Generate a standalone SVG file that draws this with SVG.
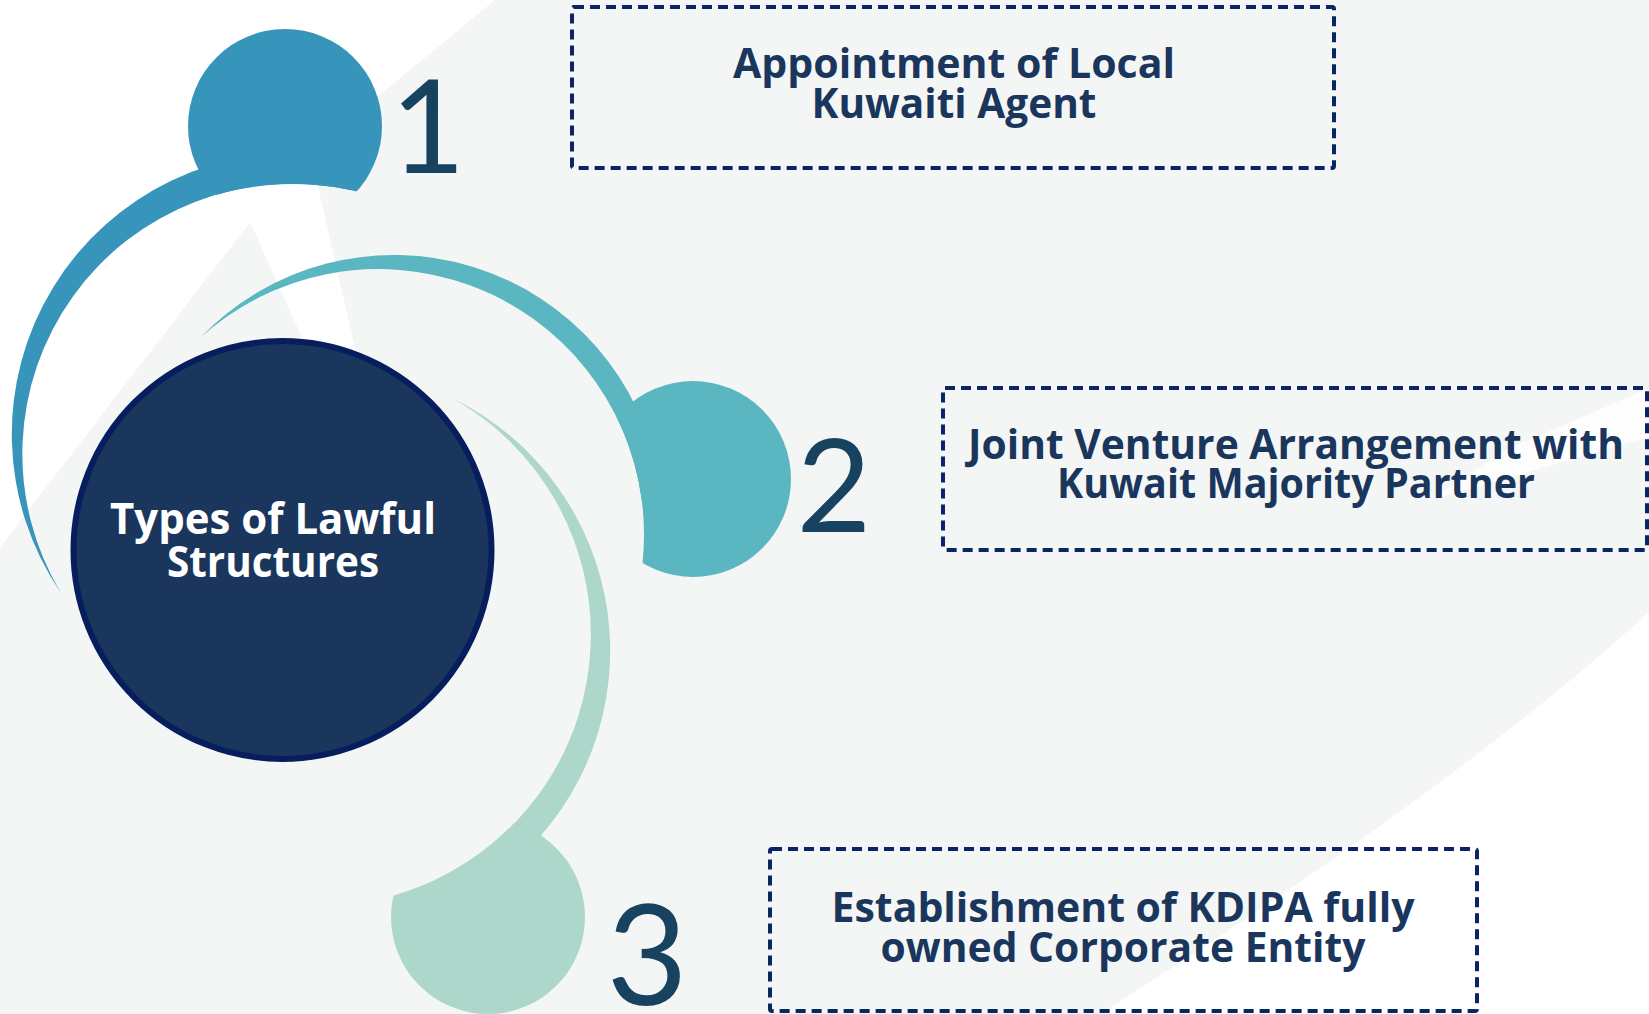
<svg xmlns="http://www.w3.org/2000/svg" width="1649" height="1014" viewBox="0 0 1649 1014">
  <style>
    .box { fill: none; stroke: #0b2462; stroke-width: 4; stroke-dasharray: 10 6; }
    .lbl { font-family: "Open Sans", "Liberation Sans", sans-serif; font-weight: 700; font-size: 42px; fill: #1a365d; text-anchor: middle; }
    .num { font-family: Lato, "Open Sans", sans-serif; font-weight: 400; fill: #174260; text-anchor: middle; }
    .title { font-family: "Open Sans", "Liberation Sans", sans-serif; font-weight: 700; font-size: 43px; fill: #ffffff; text-anchor: middle; }
  </style>
  <defs>
    <clipPath id="cut1"><path clip-rule="evenodd" d="M0 0H1649V1014H0Z M23 454a270 270 0 1 0 540 0a270 270 0 1 0 -540 0Z"/></clipPath>
    <clipPath id="cut2"><path clip-rule="evenodd" d="M0 0H1649V1014H0Z M113 534.5a265.5 265.5 0 1 0 531 0a265.5 265.5 0 1 0 -531 0Z"/></clipPath>
    <clipPath id="cut3"><path clip-rule="evenodd" d="M0 0H1649V1014H0Z M48 635a271 271 0 1 0 542 0a271 271 0 1 0 -542 0Z"/></clipPath>
  </defs>

  <g id="background">
    <rect x="0" y="0" width="1649" height="1014" fill="#f4f6f5"/>
    <path d="M0 0L495 0L310 152L318 187L353 340L370 410L330 410L300 333L250 222L0 547Z" fill="#ffffff"/>
    <path d="M1649 612Q1460 785 1100 1014L1649 1014Z" fill="#ffffff"/>
    <path d="M1649 388L1506 450L1430 500L1649 437Z" fill="#ffffff" opacity="0.8"/>
  </g>

  <g id="connectors">
    <path id="arc1" d="M61 593A281 281 0 0 1 330 155.6L350 190A270 270 0 0 0 61 593Z" fill="#3795bb"/>
    <path id="arc2" d="M200 338A268.4 268.4 0 0 1 659 480L641.7 500A265.5 265.5 0 0 0 200 338Z" fill="#5ab6c1"/>
    <path id="arc3" d="M452 398A281 281 0 0 1 516.8 860L434.8 880A271 271 0 0 0 452 398Z" fill="#aed7cb"/>
  </g>

  <g id="node-1">
    <circle cx="285" cy="126" r="97" fill="#3795bb" clip-path="url(#cut1)"/>
    <text class="num" x="428" y="173" font-size="129">1</text>
  </g>
  <g id="node-2">
    <circle cx="693" cy="479" r="98" fill="#5ab6c1" clip-path="url(#cut2)"/>
    <text class="num" x="834" y="532" font-size="129">2</text>
  </g>
  <g id="node-3">
    <circle cx="488" cy="917" r="97" fill="#aed7cb" clip-path="url(#cut3)"/>
    <text class="num" x="647" y="1005" font-size="140">3</text>
  </g>

  <g id="center">
    <circle cx="282.5" cy="550" r="209" fill="#1a365d" stroke="#061d5e" stroke-width="6"/>
    <text class="title" x="273" y="534" textLength="326" lengthAdjust="spacingAndGlyphs">Types of Lawful</text>
    <text class="title" x="273" y="577" textLength="212" lengthAdjust="spacingAndGlyphs">Structures</text>
  </g>

  <g id="box-1">
    <rect class="box" x="572" y="7" width="762" height="161" rx="2"/>
    <text class="lbl" x="954" y="78" textLength="442" lengthAdjust="spacingAndGlyphs">Appointment of Local</text>
    <text class="lbl" x="954" y="118" textLength="285" lengthAdjust="spacingAndGlyphs">Kuwaiti Agent</text>
  </g>
  <g id="box-2">
    <rect class="box" x="943" y="388" width="704" height="162" rx="2"/>
    <text class="lbl" x="1296" y="459" textLength="656" lengthAdjust="spacingAndGlyphs">Joint Venture Arrangement with</text>
    <text class="lbl" x="1296" y="498" textLength="478" lengthAdjust="spacingAndGlyphs">Kuwait Majority Partner</text>
  </g>
  <g id="box-3">
    <rect class="box" x="770" y="849" width="707" height="162" rx="2"/>
    <text class="lbl" x="1123" y="922" textLength="583" lengthAdjust="spacingAndGlyphs">Establishment of KDIPA fully</text>
    <text class="lbl" x="1123" y="962" textLength="485" lengthAdjust="spacingAndGlyphs">owned Corporate Entity</text>
  </g>
</svg>
